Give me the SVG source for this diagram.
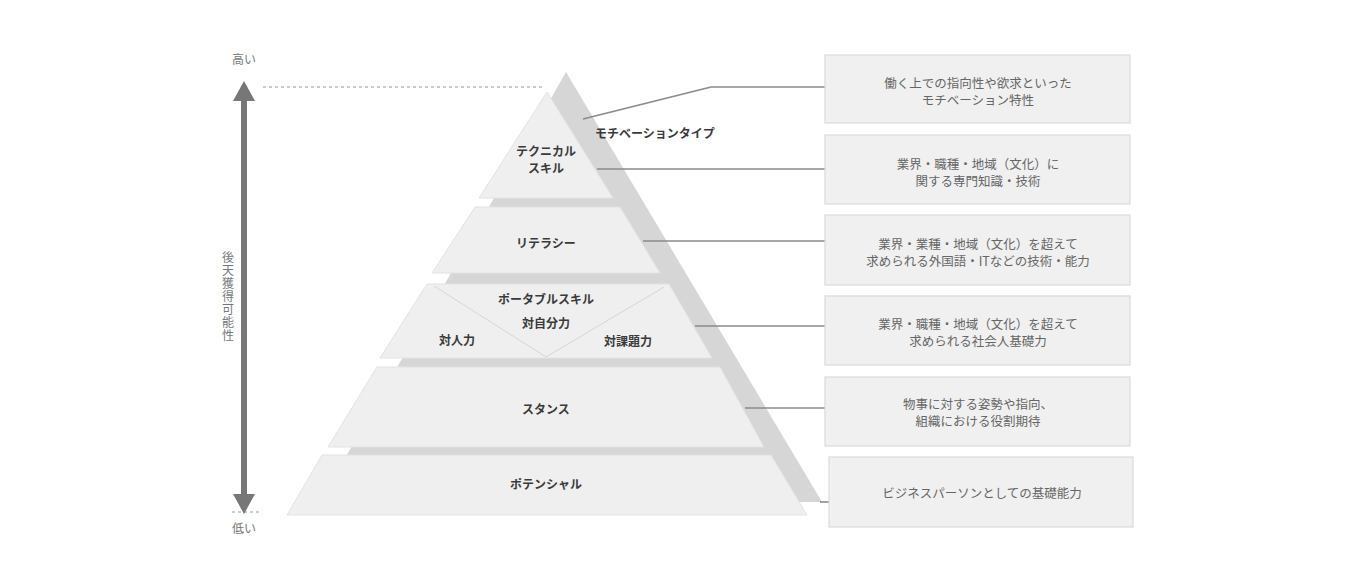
<svg xmlns="http://www.w3.org/2000/svg" width="1360" height="584" viewBox="0 0 1360 584">
<style>
.layer{fill:#efefef;stroke:#e2e2e2;stroke-width:1}
.shadow{fill:#d6d6d6}
.lbl{font-family:"Noto Sans CJK JP","Liberation Sans",sans-serif;font-weight:bold;font-size:12px;fill:#3a3a3a;text-anchor:middle;dominant-baseline:central}
.box rect{fill:#f0f0f0;stroke:#dadada;stroke-width:1.2}
.box text{font-family:"Noto Sans CJK JP","Liberation Sans",sans-serif;font-size:12.5px;fill:#666;text-anchor:middle;dominant-baseline:central}
.axis{font-family:"Noto Sans CJK JP","Liberation Sans",sans-serif;font-size:12px;fill:#777;text-anchor:middle;dominant-baseline:central}
.conn{stroke:#8a8a8a;stroke-width:1.6;fill:none}
.dash{stroke:#999;stroke-width:1.2;stroke-dasharray:3 3;fill:none}
</style>
<rect width="1360" height="584" fill="#ffffff"/>

<g id="axis">
  <line class="dash" x1="263" y1="87" x2="545" y2="87"/>
  <line class="dash" x1="232" y1="512" x2="262" y2="512"/>
  <line x1="244" y1="98" x2="244" y2="497" stroke="#777" stroke-width="6"/>
  <polygon points="244,81 233,101 255,101" fill="#777"/>
  <polygon points="244,514 233,494 255,494" fill="#777"/>
  <text class="axis" x="244" y="58">高い</text>
  <text class="axis" x="244" y="527">低い</text>
  <text class="axis" x="228" y="297" font-size="13" style="writing-mode:vertical-rl;text-orientation:upright;letter-spacing:1px">後天獲得可能性</text>
</g>

<g id="shadow">
  <polygon class="shadow" points="566,72 822,502 320,502"/>
</g>

<g id="technical">
  <polygon class="layer" points="547,92 613,198 479,198"/>
  <text class="lbl" x="546" y="150">テクニカル</text>
  <text class="lbl" x="546" y="167">スキル</text>
</g>

<g id="literacy">
  <polygon class="layer" points="475,207 620,207 660,273 432,273"/>
  <text class="lbl" x="546" y="242">リテラシー</text>
</g>

<g id="portable">
  <polygon class="layer" points="427,284 669,284 712,358 380,358"/>
  <polyline points="434,286 546,357 664,287" fill="none" stroke="#d6d6d6" stroke-width="1"/>
  <text class="lbl" x="546" y="298">ポータブルスキル</text>
  <text class="lbl" x="546" y="322">対自分力</text>
  <text class="lbl" x="457" y="339">対人力</text>
  <text class="lbl" x="628" y="340">対課題力</text>
</g>

<g id="stance">
  <polygon class="layer" points="377,367 720,367 764,447 328,447"/>
  <text class="lbl" x="546" y="408">スタンス</text>
</g>

<g id="potential">
  <polygon class="layer" points="322,455 771,455 807,515 287,515"/>
  <text class="lbl" x="546" y="483">ポテンシャル</text>
</g>

<g id="motivation-label">
  <text class="lbl" x="655" y="132">モチベーションタイプ</text>
</g>

<g id="connectors">
  <polyline class="conn" points="583,119 711,87 825,87"/>
  <line class="conn" x1="597" y1="169" x2="825" y2="169"/>
  <line class="conn" x1="643" y1="241" x2="825" y2="241"/>
  <line class="conn" x1="695" y1="326" x2="825" y2="326"/>
  <line class="conn" x1="745" y1="408" x2="825" y2="408"/>
  <line class="conn" x1="820" y1="502" x2="829" y2="502"/>
</g>

<g id="box1" class="box">
  <rect x="825" y="55" width="305" height="68"/>
  <text x="978" y="82">働く上での指向性や欲求といった</text>
  <text x="978" y="99">モチベーション特性</text>
</g>
<g id="box2" class="box">
  <rect x="825" y="135" width="305" height="69"/>
  <text x="978" y="163">業界・職種・地域（文化）に</text>
  <text x="978" y="180">関する専門知識・技術</text>
</g>
<g id="box3" class="box">
  <rect x="825" y="215" width="305" height="70"/>
  <text x="978" y="243">業界・業種・地域（文化）を超えて</text>
  <text x="978" y="260">求められる外国語・ITなどの技術・能力</text>
</g>
<g id="box4" class="box">
  <rect x="825" y="296" width="305" height="69"/>
  <text x="978" y="323">業界・職種・地域（文化）を超えて</text>
  <text x="978" y="340">求められる社会人基礎力</text>
</g>
<g id="box5" class="box">
  <rect x="825" y="377" width="305" height="69"/>
  <text x="978" y="403">物事に対する姿勢や指向、</text>
  <text x="978" y="420">組織における役割期待</text>
</g>
<g id="box6" class="box">
  <rect x="829" y="457" width="304" height="70"/>
  <text x="982" y="492">ビジネスパーソンとしての基礎能力</text>
</g>
</svg>
